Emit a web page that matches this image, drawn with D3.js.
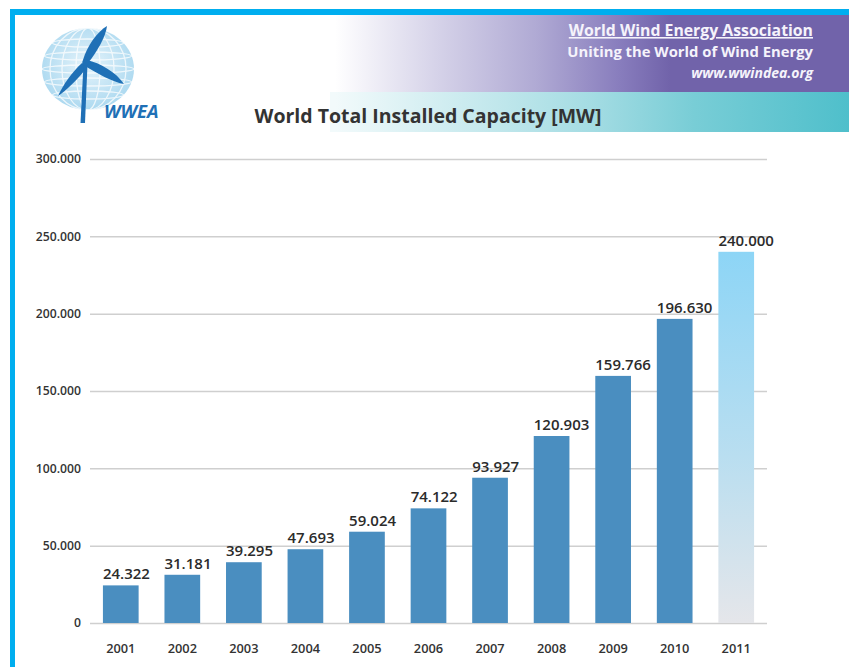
<!DOCTYPE html>
<html>
<head>
<meta charset="utf-8">
<script src="https://cdn.jsdelivr.net/npm/d3@7"></script>
<style>
  body { margin: 0; background: #fff; }
  svg { display: block; font-family: "Open Sans", "DejaVu Sans", sans-serif; }
</style>
</head>
<body>
<div id="chart"></div>
<script>
// world wind capacity, WWEA 2011 (MW)
var years = ["2001", "2002", "2003", "2004", "2005", "2006", "2007", "2008", "2009", "2010", "2011"];
var capacity = [24322, 31181, 39295, 47693, 59024, 74122, 93927, 120903, 159766, 196630, 240000];
var yTicks = [0, 50000, 100000, 150000, 200000, 250000, 300000];
var forecastYear = "2011";

var W = 849, H = 667;
var svg = d3.select("#chart").append("svg").attr("width", W).attr("height", H);
var defs = svg.append("defs");

var fmt = d3.formatLocale({decimal: ",", thousands: ".", grouping: [3], currency: ["", ""]}).format(",");

// gradients
var gp = defs.append("linearGradient").attr("id", "purple")
  .attr("gradientUnits", "userSpaceOnUse").attr("x1", 335).attr("x2", 670).attr("y1", 0).attr("y2", 0);
[["0%", "#ffffff"], ["30%", "#d6d3e9"], ["60%", "#b0aad4"], ["85%", "#887dbd"], ["100%", "#7163aa"]]
  .forEach(function(s) { gp.append("stop").attr("offset", s[0]).attr("stop-color", s[1]); });

var gt = defs.append("linearGradient").attr("id", "teal")
  .attr("gradientUnits", "userSpaceOnUse").attr("x1", 335).attr("x2", 849).attr("y1", 0).attr("y2", 0);
[["0%", "#f2fafb"], ["50%", "#a4dce3"], ["70%", "#78cdd6"], ["100%", "#4fbfcb"]]
  .forEach(function(s) { gt.append("stop").attr("offset", s[0]).attr("stop-color", s[1]); });

var gf = defs.append("linearGradient").attr("id", "fcast")
  .attr("x1", 0).attr("x2", 0).attr("y1", 0).attr("y2", 1);
gf.append("stop").attr("offset", "0%").attr("stop-color", "#8dd5f6");
gf.append("stop").attr("offset", "55%").attr("stop-color", "#b9def0");
gf.append("stop").attr("offset", "100%").attr("stop-color", "#e5e6ea");

var gg = defs.append("radialGradient").attr("id", "globe").attr("cx", "50%").attr("cy", "45%").attr("r", "55%");
gg.append("stop").attr("offset", "0%").attr("stop-color", "#e6f4fb");
gg.append("stop").attr("offset", "100%").attr("stop-color", "#acd9f0");

// header bands
svg.append("rect").attr("x", 330).attr("y", 15).attr("width", W - 330).attr("height", 77).attr("fill", "url(#purple)");
svg.append("rect").attr("x", 330).attr("y", 92).attr("width", W - 330).attr("height", 40).attr("fill", "url(#teal)");

// frame
svg.append("rect").attr("x", 10).attr("y", 9).attr("width", W).attr("height", 6).attr("fill", "#00aeef");
svg.append("rect").attr("x", 10).attr("y", 9).attr("width", 5).attr("height", H).attr("fill", "#00aeef");

// header text
var hx = 813;
svg.append("text").attr("x", hx).attr("y", 36).attr("text-anchor", "end")
  .attr("font-size", 15.8).attr("font-weight", "bold").attr("fill", "#f5f3fb")
  .attr("text-decoration", "underline").text("World Wind Energy Association");
svg.append("text").attr("x", hx).attr("y", 57).attr("text-anchor", "end")
  .attr("font-size", 14.8).attr("font-weight", "bold").attr("fill", "#f5f3fb")
  .text("Uniting the World of Wind Energy");
svg.append("text").attr("x", hx).attr("y", 78).attr("text-anchor", "end")
  .attr("font-size", 14).attr("font-weight", "bold").attr("font-style", "italic").attr("fill", "#f5f3fb")
  .text("www.wwindea.org");

svg.append("text").attr("x", 428).attr("y", 123).attr("text-anchor", "middle")
  .attr("font-size", 19.5).attr("font-weight", "bold").attr("fill", "#333")
  .text("World Total Installed Capacity [MW]");

// logo
var logo = svg.append("g");
logo.append("ellipse").attr("cx", 88).attr("cy", 69).attr("rx", 46).attr("ry", 41).attr("fill", "url(#globe)");
var grid = logo.append("g").attr("fill", "none").attr("stroke", "#ffffff").attr("stroke-width", 1.3).attr("opacity", 0.75);
[-26, -13, 0, 13, 26].forEach(function(d) {
  grid.append("ellipse").attr("cx", 88).attr("cy", 69 + d).attr("rx", Math.sqrt(1 - (d * d) / (41 * 41)) * 46).attr("ry", 4);
});
[12, 26, 38].forEach(function(r) {
  grid.append("ellipse").attr("cx", 88).attr("cy", 69).attr("rx", r).attr("ry", 41);
});
var blade = "#1f70b6";
logo.append("path").attr("fill", blade)
  .attr("d", "M83,60 C87,46 97,32 107,26 C106,36 97,52 88,63 Z");
logo.append("path").attr("fill", blade)
  .attr("d", "M82,63 C72,72 63,85 58,96 C67,90 79,78 88,66 Z");
logo.append("path").attr("fill", blade)
  .attr("d", "M87,60 C100,63 116,72 124,84 C112,82 97,73 85,66 Z");
logo.append("path").attr("fill", blade)
  .attr("d", "M83.5,64 L87.5,64 L85,123 L80.5,123 Z");
logo.append("circle").attr("cx", 85.5).attr("cy", 62.5).attr("r", 3.2).attr("fill", blade);
logo.append("text").attr("x", 104).attr("y", 118).attr("font-size", 18.5).attr("font-weight", "bold")
  .attr("font-style", "italic").attr("fill", "#1f70b6").text("WWEA");

// chart
var x = d3.scaleBand().domain(years).range([90, 767]).paddingInner(0.42).paddingOuter(0.21);
var y = d3.scaleLinear().domain([0, 300000]).range([623, 159]);

var yAxis = svg.append("g").attr("transform", "translate(90,0)")
  .call(d3.axisLeft(y).tickValues(yTicks).tickSize(-677).tickPadding(9).tickFormat(fmt));
yAxis.select(".domain").remove();
yAxis.selectAll("line").attr("stroke", "#cfcfcf").attr("stroke-width", 1.5);
yAxis.selectAll("text").attr("font-size", 12.2).attr("font-weight", 600).attr("fill", "#333")
  .attr("font-family", "\"Open Sans\", sans-serif");

var xAxis = svg.append("g").attr("transform", "translate(0,623)")
  .call(d3.axisBottom(x).tickSize(0).tickPadding(21));
xAxis.select(".domain").remove();
xAxis.selectAll("text").attr("font-size", 12.8).attr("font-weight", 600).attr("fill", "#333")
  .attr("font-family", "\"Open Sans\", sans-serif");

// value labels sit left-aligned on the bar edge
var bars = svg.append("g").selectAll("g").data(years).enter().append("g");
bars.append("rect")
  .attr("x", function(d) { return x(d); })
  .attr("width", x.bandwidth())
  .attr("y", function(d, i) { return y(capacity[i]); })
  .attr("height", function(d, i) { return y(0) - y(capacity[i]); })
  .attr("fill", function(d) { return d === forecastYear ? "url(#fcast)" : "#4a8ec0"; });
bars.append("text")
  .attr("x", function(d) { return x(d); })
  .attr("y", function(d, i) { return y(capacity[i]) - 6; })
  .attr("font-size", 15).attr("font-weight", 600).attr("fill", "#2b2b2b")
  .text(function(d, i) { return fmt(capacity[i]); });
</script>
</body>
</html>
